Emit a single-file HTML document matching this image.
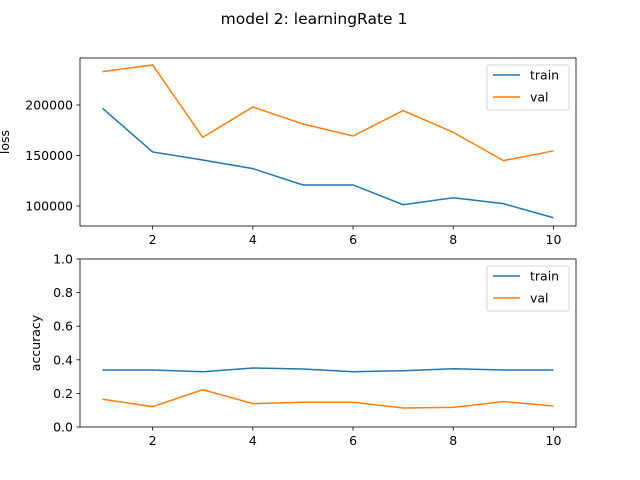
<!DOCTYPE html>
<html><head><meta charset="utf-8"><style>
body{margin:0;background:#fff}
svg{display:block;font-family:"DejaVu Sans","Liberation Sans",sans-serif}
</style></head><body>
<svg id="fig" width="640" height="480">
<text x="314" y="24" text-anchor="middle" font-size="15.5">model 2: learningRate 1</text>
</svg>
<script>
const epochs=[1,2,3,4,5,6,7,8,9,10];
const lossTrain=[196700,153500,145500,137000,120800,120800,101300,108200,102300,88400];
const lossVal=[233000,239600,168000,198000,181200,169300,194400,173000,144900,154500];
const accTrain=[0.339,0.339,0.329,0.351,0.345,0.329,0.335,0.347,0.339,0.339];
const accVal=[0.165,0.121,0.222,0.139,0.147,0.147,0.113,0.117,0.151,0.125];
const xTicks=[2,4,6,8,10];
const lossTicks=[100000,150000,200000];
const accTicks=[0,0.2,0.4,0.6,0.8,1.0];
const NS='http://www.w3.org/2000/svg';
const svg=document.getElementById('fig');
const L=80,R=576;
function xs(v){return L+(v-0.55)/(10.45-0.55)*(R-L);}
function mk(t,a,p){const e=document.createElementNS(NS,t);for(const k in a)e.setAttribute(k,a[k]);(p||svg).appendChild(e);return e;}
function panel(top,bot,ymin,ymax,yt,fmt,s1,s2,ylabel,name){
  const ys=v=>bot-(v-ymin)/(ymax-ymin)*(bot-top);
  const g=mk('g',{});
  
  
  const cols=['#1f77b4','#ff7f0e'];
  [s1,s2].forEach((s,i)=>{
    const p=mk('polyline',{points:epochs.map((e,j)=>xs(e)+','+ys(s[j])).join(' '),fill:'none',stroke:cols[i],'stroke-width':1.5},g);
    
    
  });
  const fr=mk('rect',{x:L,y:top,width:R-L,height:bot-top,fill:'none',stroke:'#000','stroke-width':0.8},g);
  
  
  xTicks.forEach(t=>{
    mk('line',{x1:xs(t),x2:xs(t),y1:bot,y2:bot+3.5,stroke:'#000','stroke-width':0.8},g);
    const tx=mk('text',{x:xs(t),y:bot+18,'text-anchor':'middle','font-size':12.5},g);
    tx.textContent=t;
    
    
  });
  yt.forEach(t=>{
    mk('line',{x1:L-3.5,x2:L,y1:ys(t),y2:ys(t),stroke:'#000','stroke-width':0.8},g);
    const tx=mk('text',{x:L-7,y:ys(t)+4.5,'text-anchor':'end','font-size':12.5},g);
    tx.textContent=fmt(t);
    
    
  });
  const yl=mk('text',{x:0,y:0,'text-anchor':'middle','font-size':12.5,transform:'translate('+(ylabel=='loss'?9:40)+','+((top+bot)/2)+') rotate(-90)'},g);
  yl.textContent=ylabel;
  
  
  const lg=mk('g',{},g);
  
  
  mk('rect',{x:487,y:top+7,width:82,height:45,rx:2,fill:'#fff',stroke:'#ccc','stroke-width':0.8},lg);
  ['train','val'].forEach((n,i)=>{
    const yy=top+17+i*22;
    mk('line',{x1:493,x2:520,y1:yy,y2:yy,stroke:cols[i],'stroke-width':1.5},lg);
    const t=mk('text',{x:530,y:yy+4.5,'font-size':12.5},lg);
    t.textContent=n;
    
    
  });
}
panel(58,226,80200,246500,lossTicks,v=>String(v),lossTrain,lossVal,'loss','loss');
panel(259,427,0,1,accTicks,v=>v.toFixed(1),accTrain,accVal,'accuracy','accuracy');
</script>
</body></html>
